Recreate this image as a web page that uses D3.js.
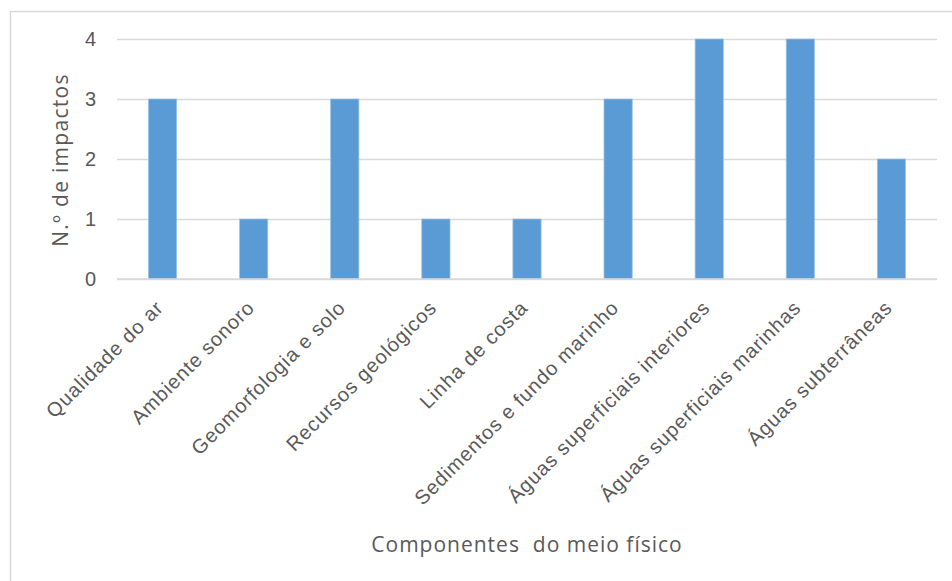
<!DOCTYPE html>
<html>
<head>
<meta charset="utf-8">
<script src="https://cdn.jsdelivr.net/npm/d3@7"></script>
<style>
  html, body { margin: 0; padding: 0; background: #fff; }
  svg { display: block; font-family: "Open Sans", Lato, sans-serif; }
</style>
</head>
<body>
<svg id="chart" width="952" height="581"></svg>
<script>
// Number of impacts per physical-environment component
const categories = [
  "Qualidade do ar",
  "Ambiente sonoro",
  "Geomorfologia e solo",
  "Recursos geológicos",
  "Linha de costa",
  "Sedimentos e fundo marinho",
  "Águas superficiais interiores",
  "Águas superficiais marinhas",
  "Águas subterrâneas"
];
const impacts = [3, 1, 3, 1, 1, 3, 4, 4, 2];
const yTicks = [0, 1, 2, 3, 4];
const yTitle = "N.º de impactos";
const xTitle = "Componentes  do meio físico";

const svg = d3.select("#chart");
const W = 952, H = 581;
const margin = { top: 39, right: 15, bottom: 302, left: 117 };
const plotW = W - margin.left - margin.right;
const plotH = H - margin.top - margin.bottom;
const textColor = "#595959";
const gridColor = "#d9d9d9";

// chart frame
svg.append("rect")
  .attr("x", 10.5).attr("y", 11.5)
  .attr("width", 960).attr("height", 600)
  .attr("fill", "#fff").attr("stroke", gridColor).attr("stroke-width", 1.5);

const g = svg.append("g").attr("transform", `translate(${margin.left},${margin.top})`);

const x = d3.scaleBand().domain(categories).range([0, plotW]).paddingInner(0.69).paddingOuter(0.345);
const y = d3.scaleLinear().domain([0, 4]).range([plotH, 0]);

// gridlines and value labels
const yAxis = d3.axisLeft(y).tickValues(yTicks).tickSize(-plotW).tickPadding(21).tickFormat(d3.format("d"));
const ya = g.append("g").call(yAxis);
ya.select(".domain").remove();
ya.selectAll(".tick line").attr("stroke", gridColor).attr("stroke-width", 1.5);
ya.selectAll(".tick text").attr("fill", textColor).attr("font-size", 20);

// bars
g.selectAll("rect.bar").data(impacts).join("rect")
  .attr("class", "bar")
  .attr("x", (d, i) => x(categories[i]))
  .attr("width", x.bandwidth())
  .attr("y", d => y(d))
  .attr("height", d => y(0) - y(d))
  .attr("fill", "#5b9bd5")
  .attr("stroke", "#9dc3e6").attr("stroke-width", 0.75);

// baseline
g.append("line").attr("x1", 0).attr("x2", plotW).attr("y1", y(0)).attr("y2", y(0))
  .attr("stroke", gridColor).attr("stroke-width", 1.5);

// category labels, rotated
const xAxis = d3.axisBottom(x).tickSize(0).tickPadding(0);
const xa = g.append("g").attr("transform", `translate(0,${plotH})`).call(xAxis);
xa.select(".domain").remove();
xa.selectAll(".tick text")
  .attr("fill", textColor).attr("font-size", 20)
  .attr("letter-spacing", 0.9)
  .attr("text-anchor", "end")
  .attr("y", 0).attr("dy", 0)
  .attr("transform", "translate(2,30) rotate(-45)");

// axis titles
svg.append("text")
  .attr("transform", `translate(67.5,${margin.top + plotH / 2 + 1}) rotate(-90)`)
  .attr("text-anchor", "middle")
  .attr("fill", textColor).attr("font-size", 21)
  .attr("letter-spacing", 1.3)
  .text(yTitle);

svg.append("text")
  .attr("x", 527).attr("y", 552)
  .attr("text-anchor", "middle")
  .attr("fill", textColor).attr("font-size", 21)
  .attr("letter-spacing", 1.0)
  .style("white-space", "pre")
  .text(xTitle);
</script>
</body>
</html>
